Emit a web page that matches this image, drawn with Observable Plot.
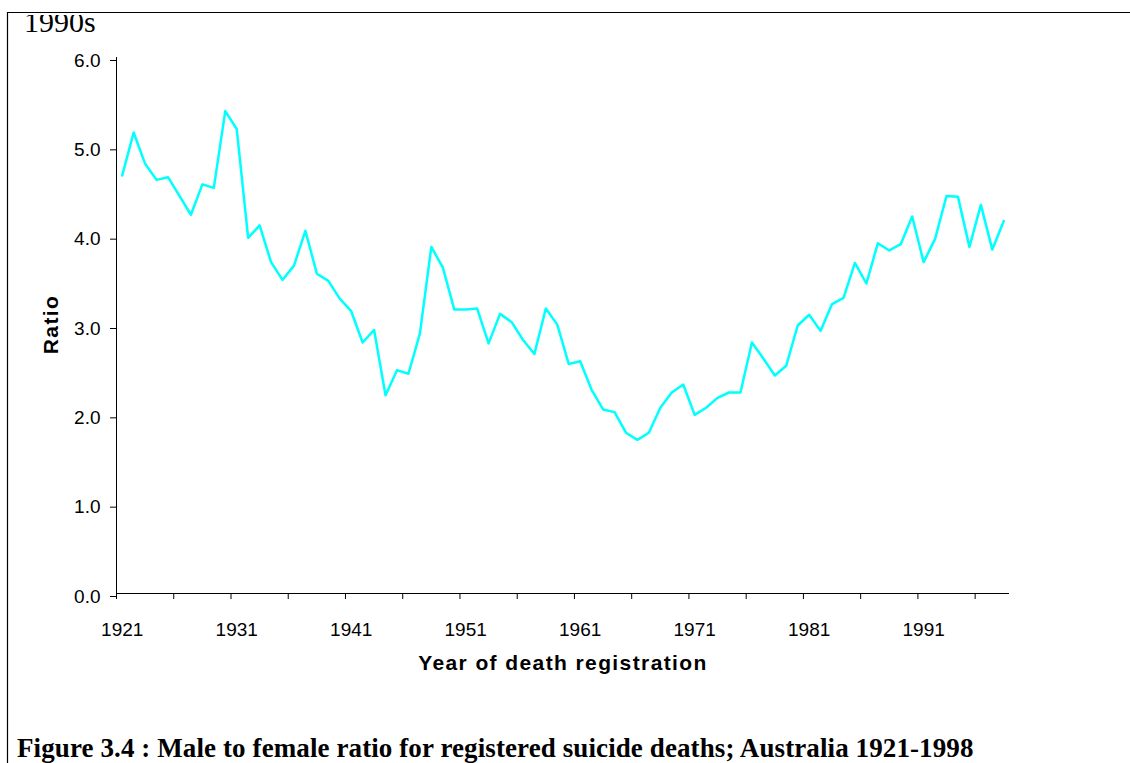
<!DOCTYPE html>
<html>
<head>
<meta charset="utf-8">
<script src="https://cdn.jsdelivr.net/npm/d3@7"></script>
<script src="https://cdn.jsdelivr.net/npm/@observablehq/plot@0.6"></script>
<style>
  html, body { margin: 0; padding: 0; background: #fff; }
  #chart { position: relative; width: 1130px; height: 763px; overflow: hidden; }
</style>
</head>
<body>
<div id="chart"></div>
<script>
const years = [1921,1922,1923,1924,1925,1926,1927,1928,1929,1930,
  1931,1932,1933,1934,1935,1936,1937,1938,1939,1940,
  1941,1942,1943,1944,1945,1946,1947,1948,1949,1950,
  1951,1952,1953,1954,1955,1956,1957,1958,1959,1960,
  1961,1962,1963,1964,1965,1966,1967,1968,1969,1970,
  1971,1972,1973,1974,1975,1976,1977,1978,1979,1980,
  1981,1982,1983,1984,1985,1986,1987,1988,1989,1990,
  1991,1992,1993,1994,1995,1996,1997,1998];
const ratios = [4.68,5.16,4.81,4.63,4.66,4.45,4.24,4.58,4.54,5.40,
  5.20,3.98,4.12,3.71,3.51,3.67,4.06,3.58,3.50,3.30,
  3.16,2.81,2.95,2.22,2.50,2.46,2.91,3.88,3.65,3.18,
  3.18,3.19,2.80,3.13,3.04,2.84,2.68,3.19,3.01,2.57,
  2.60,2.28,2.06,2.03,1.80,1.72,1.80,2.08,2.25,2.34,
  2.00,2.08,2.19,2.25,2.25,2.81,2.63,2.44,2.55,3.00,
  3.12,2.94,3.24,3.31,3.70,3.47,3.92,3.84,3.91,4.22,
  3.71,3.97,4.45,4.44,3.88,4.35,3.85,4.17];
const xLabelYears = [1921,1931,1941,1951,1961,1971,1981,1991];
const xTickMarks = [1920.5,1925.5,1930.5,1935.5,1940.5,1945.5,1950.5,1955.5,
  1960.5,1965.5,1970.5,1975.5,1980.5,1985.5,1990.5,1995.5];
const yTicks = [0,1,2,3,4,5,6];
const xDomain = [1920.5, 1998.5];
const yDomain = [0, 6];

const data = years.map((y, i) => ({year: y, ratio: ratios[i]}));

const sans = "'Liberation Sans', Arial, Helvetica, sans-serif";
const serif = "'Liberation Serif', 'Times New Roman', Times, serif";

const plot = Plot.plot({
  width: 1130,
  height: 763,
  marginLeft: 116,
  marginRight: 121,
  marginTop: 57,
  marginBottom: 170,
  style: {fontFamily: sans, fontSize: "19px", background: "#fff", color: "#000", overflow: "visible"},
  x: {domain: xDomain, label: null},
  y: {domain: yDomain, label: null},
  marks: [
    Plot.axisY({ticks: yTicks, tickSize: 6, tickPadding: 10, dy: 3,
      tickFormat: d3.format(".1f"), fontSize: 19, label: null}),
    Plot.axisX({ticks: xTickMarks, tickSize: 6, tickFormat: () => "", label: null}),
    Plot.axisX({ticks: xLabelYears, tickSize: 0, tickPadding: 29,
      tickFormat: d => String(d), fontSize: 19, label: null}),
    Plot.ruleX([xDomain[0]], {stroke: "#000", strokeWidth: 1}),
    Plot.ruleY([0], {stroke: "#000", strokeWidth: 1}),
    Plot.line(data, {x: "year", y: "ratio", stroke: "#00ffff", strokeWidth: 2.5})
  ]
});

const svg = d3.select(plot);

// frame lines
svg.append("path")
  .attr("d", "M7.5,763 L7.5,12.5 L1130,12.5")
  .attr("fill", "none").attr("stroke", "#000").attr("stroke-width", 1.2);

// clipped "1990s" text at top-left
svg.append("clipPath").attr("id", "topclip")
  .append("rect").attr("x", 8).attr("y", 15).attr("width", 300).attr("height", 40);
svg.append("text")
  .attr("clip-path", "url(#topclip)")
  .attr("x", 24).attr("y", 31.5)
  .attr("text-anchor", "start")
  .attr("font-family", serif).attr("font-size", 30)
  .attr("fill", "#000")
  .text("1990s");

// y axis title
svg.append("text")
  .attr("transform", "translate(58,324.5) rotate(-90)")
  .attr("text-anchor", "middle")
  .attr("font-family", sans).attr("font-weight", "bold").attr("font-size", 21)
  .attr("letter-spacing", "1.4px")
  .attr("fill", "#000")
  .text("Ratio");

// x axis title
svg.append("text")
  .attr("x", 563).attr("y", 669.5)
  .attr("text-anchor", "middle")
  .attr("font-family", sans).attr("font-weight", "bold").attr("font-size", 21)
  .attr("letter-spacing", "1.4px")
  .attr("fill", "#000")
  .text("Year of death registration");

// caption
svg.append("text")
  .attr("x", 17).attr("y", 757)
  .attr("text-anchor", "start")
  .attr("font-family", serif).attr("font-weight", "bold").attr("font-size", 27)
  .attr("letter-spacing", "0.1px")
  .attr("fill", "#000")
  .text("Figure 3.4 : Male to female ratio for registered suicide deaths; Australia 1921-1998");

document.getElementById("chart").appendChild(plot);
</script>
</body>
</html>
